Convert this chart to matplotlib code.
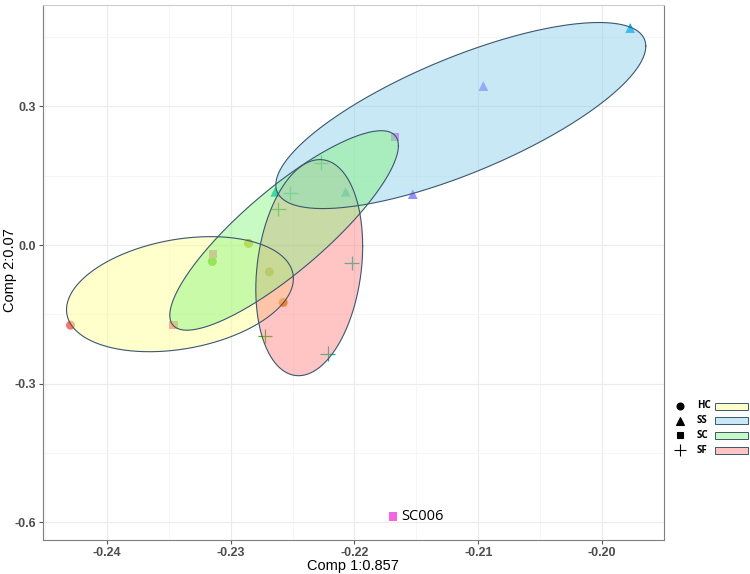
import numpy as np
import matplotlib
matplotlib.use('Agg')
import matplotlib.pyplot as plt

plt.rcParams['font.family'] = ['Liberation Sans', 'DejaVu Sans']

# 各组样本坐标 (Comp 1, Comp 2)
hc_x = [-0.24293, -0.23148, -0.22855, -0.22687, -0.22575]
hc_y = [-0.1732, -0.0353, 0.0037, -0.0578, -0.1241]
ss_x = [-0.22639, -0.22070, -0.21529, -0.20959, -0.19773]
ss_y = [0.1154, 0.1154, 0.1104, 0.3442, 0.4698]
sc_x = [-0.23140, -0.23462, -0.21670, -0.21691]
sc_y = [-0.0195, -0.1725, 0.2345, -0.5874]
sf_x = [-0.22269, -0.22517, -0.22615, -0.22022, -0.22722, -0.22216]
sf_y = [0.1782, 0.1132, 0.0779, -0.0383, -0.1970, -0.2345]

groups = ['HC', 'SS', 'SC', 'SF']

# 置信椭圆: 中心, 半宽, 半高, 相关系数 (顺序同 groups)
ell_cx = [-0.23409, -0.21141, -0.22568, -0.22365]
ell_cy = [-0.1061, 0.2804, 0.0318, -0.0487]
ell_w = [0.00916, 0.01494, 0.00923, 0.004315]
ell_h = [0.1245, 0.2013, 0.2158, 0.2338]
ell_r = [0.27, 0.745, 0.85, 0.20]

# 颜色 (ggplot 色相)
hc_col = ['#F8766D', '#6BB100', '#C99800', '#A3A500', '#E58700']
ss_col = ['#00BFC4', '#00BCD8', '#9590FF', '#A58AFF', '#00B0F6']
sc_col = ['#FF62BC', '#FF6C91', '#E76BF3', '#F564E3']
sf_col = ['#00BA38', '#00C08B', '#00BC56', '#00C1A3', '#39B600', '#00BF7D']
fill_col = ['#FFFF8F', '#87CEEB', '#85F47E', '#FF8080']
edge_col = '#3B5670'
draw_order = [0, 3, 1, 2]

fig = plt.figure(figsize=(7.5, 5.74), dpi=100)
ax = fig.add_axes([43 / 750, 1 - 540 / 574, 621 / 750, 535 / 574])

ax.scatter(hc_x, hc_y, c=hc_col, marker='o', s=42, linewidths=0, zorder=2)
ax.scatter(ss_x, ss_y, c=ss_col, marker='^', s=50, linewidths=0, zorder=2)
ax.scatter(sc_x, sc_y, c=sc_col, marker='s', s=36, linewidths=0, zorder=2)
ax.scatter(sf_x, sf_y, c=sf_col, marker='+', s=110, linewidths=0.9, zorder=2)

# 椭圆画在点之上
t = np.linspace(0, 2 * np.pi, 300)
for k, i in enumerate(draw_order):
    ex = ell_cx[i] + ell_w[i] * np.cos(t)
    ey = ell_cy[i] + ell_h[i] * (ell_r[i] * np.cos(t) + np.sqrt(1 - ell_r[i] ** 2) * np.sin(t))
    ax.fill(ex, ey, facecolor=fill_col[i], alpha=0.45, edgecolor='none', zorder=3 + k * 0.1)
    ax.plot(ex, ey, color=edge_col, lw=0.8, zorder=4)

# 离群点标注
ax.text(sc_x[3] + 0.0007, sc_y[3], 'SC006', fontsize=10.5, va='center', ha='left',
        family=['Open Sans', 'DejaVu Sans'], zorder=5)

ax.set_xlim(-0.24515, -0.19553)
ax.set_ylim(-0.638, 0.5196)
ax.set_xticks([-0.24, -0.23, -0.22, -0.21, -0.20])
ax.set_xticklabels(['-0.24', '-0.23', '-0.22', '-0.21', '-0.20'])
ax.set_yticks([-0.6, -0.3, 0.0, 0.3])
ax.set_yticklabels(['-0.6', '-0.3', '0.0', '0.3'])
ax.set_xticks(np.arange(-0.245, -0.19, 0.01), minor=True)
ax.set_yticks([-0.45, -0.15, 0.15, 0.45], minor=True)
ax.grid(which='major', color='#EBEBEB', lw=0.8, zorder=0)
ax.grid(which='minor', color='#F3F3F3', lw=0.5, zorder=0)
ax.set_axisbelow(True)
ax.tick_params(which='major', length=3, color='#555555', labelsize=9, labelcolor='#4D4D4D', pad=2)
ax.tick_params(which='minor', length=0)
for lab in ax.get_xticklabels() + ax.get_yticklabels():
    lab.set_fontweight('bold')
for side in ['left', 'bottom', 'right']:
    ax.spines[side].set_color('#7F7F7F')
ax.spines['top'].set_color('#CCCCCC')

# 坐标轴标题
fig.text(353 / 750, 1 - 566 / 574, 'Comp 1:0.857', fontsize=10.5, ha='center', va='center')
fig.text(10 / 750, 1 - 270 / 574, 'Comp 2:0.07', fontsize=10.5, ha='center', va='center', rotation=90)

# 图例
lg = fig.add_axes([670 / 750, 1 - 460 / 574, 80 / 750, 60 / 574])
lg.set_xlim(670, 750)
lg.set_ylim(460, 400)
lg.axis('off')
shapes = ['o', '^', 's', '+']
sizes = [5, 6, 5, 9]
for i, g in enumerate(groups):
    yy = 406 + i * 14.7
    lg.plot(679.5, yy, marker=shapes[i], color='black', ms=sizes[i], mew=0.8, ls='none')
    lg.text(697, yy, g, fontsize=7, fontweight='bold', va='center', ha='left',
            family=['Open Sans', 'DejaVu Sans'])
    lg.add_patch(plt.Rectangle((714.5, yy - 3.5), 33, 7, facecolor=fill_col[i], alpha=0.45,
                               edgecolor='none'))
    lg.add_patch(plt.Rectangle((714.5, yy - 3.5), 33, 7, facecolor='none', edgecolor=edge_col, lw=0.7))

fig.savefig('out.png', dpi=100)
